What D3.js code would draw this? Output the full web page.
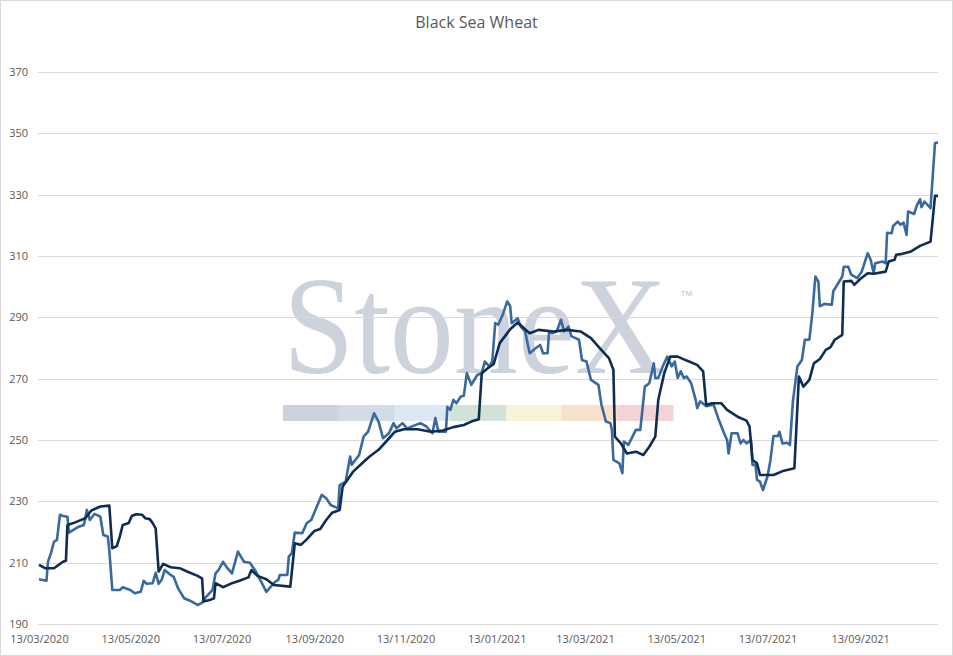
<!DOCTYPE html>
<html>
<head>
<meta charset="utf-8">
<script src="https://cdn.jsdelivr.net/npm/d3@7"></script>
<style>
  body { margin: 0; background: #fff; }
  svg { display: block; }
</style>
</head>
<body>
<div id="chart"></div>
<script>
// chart data
const chartTitle = "Black Sea Wheat";

const yTicks = [190, 210, 230, 250, 270, 290, 310, 330, 350, 370];

const xTickDates = [
  "2020-03-13", "2020-05-13", "2020-07-13", "2020-09-13", "2020-11-13",
  "2021-01-13", "2021-03-13", "2021-05-13", "2021-07-13", "2021-09-13"
];

// first series (dark navy line)
const series1 = [
  ["2020-03-13", 209.3], ["2020-03-17", 208.2], ["2020-03-23", 208.2], ["2020-03-29", 210.3],
  ["2020-03-31", 210.6], ["2020-04-01", 222.3], ["2020-04-05", 222.9], ["2020-04-09", 223.7],
  ["2020-04-13", 224.5], ["2020-04-17", 227.0], ["2020-04-23", 228.3], ["2020-04-29", 228.6],
  ["2020-05-01", 214.7], ["2020-05-04", 215.4], ["2020-05-06", 218.5], ["2020-05-08", 222.3],
  ["2020-05-12", 222.9], ["2020-05-14", 225.2], ["2020-05-17", 225.8], ["2020-05-21", 225.6],
  ["2020-05-23", 224.5], ["2020-05-26", 224.2], ["2020-05-28", 222.9], ["2020-05-30", 221.2],
  ["2020-06-01", 207.1], ["2020-06-04", 209.6], ["2020-06-09", 208.5], ["2020-06-15", 208.2],
  ["2020-06-20", 207.1], ["2020-06-27", 205.7], ["2020-06-30", 204.9], ["2020-07-01", 197.3],
  ["2020-07-05", 197.8], ["2020-07-08", 198.4], ["2020-07-09", 203.3], ["2020-07-14", 202.0],
  ["2020-07-19", 203.1], ["2020-07-25", 204.1], ["2020-07-31", 205.2], ["2020-08-02", 207.6],
  ["2020-08-06", 205.7], ["2020-08-12", 204.6], ["2020-08-17", 202.7], ["2020-08-28", 202.2],
  ["2020-08-31", 216.3], ["2020-09-04", 215.8], ["2020-09-08", 217.6], ["2020-09-13", 220.3],
  ["2020-09-17", 221.0], ["2020-09-21", 223.9], ["2020-09-25", 226.3], ["2020-09-30", 227.2],
  ["2020-10-02", 234.8], ["2020-10-06", 237.5], ["2020-10-09", 239.7], ["2020-10-15", 242.4],
  ["2020-10-20", 244.6], ["2020-10-26", 246.8], ["2020-11-01", 250.0], ["2020-11-06", 252.7],
  ["2020-11-12", 253.5], ["2020-11-21", 253.5], ["2020-11-30", 252.7], ["2020-12-08", 253.1],
  ["2020-12-15", 254.2], ["2020-12-22", 254.9], ["2020-12-27", 256.0], ["2021-01-01", 256.8],
  ["2021-01-03", 271.8], ["2021-01-07", 273.4], ["2021-01-11", 274.8], ["2021-01-15", 281.6],
  ["2021-01-22", 286.1], ["2021-01-27", 288.3], ["2021-01-31", 286.5], ["2021-02-04", 284.8],
  ["2021-02-10", 285.9], ["2021-02-20", 285.4], ["2021-03-01", 285.9], ["2021-03-10", 285.4],
  ["2021-03-17", 283.2], ["2021-03-23", 279.9], ["2021-03-29", 276.7], ["2021-04-01", 272.9],
  ["2021-04-02", 251.1], ["2021-04-06", 248.9], ["2021-04-10", 245.6], ["2021-04-16", 246.2],
  ["2021-04-21", 245.1], ["2021-04-25", 247.8], ["2021-04-29", 251.1], ["2021-05-01", 263.1],
  ["2021-05-05", 271.8], ["2021-05-09", 277.2], ["2021-05-14", 277.2], ["2021-05-20", 275.9],
  ["2021-05-27", 274.5], ["2021-05-31", 272.4], ["2021-06-02", 261.5], ["2021-06-06", 262.0],
  ["2021-06-12", 262.0], ["2021-06-16", 259.8], ["2021-06-23", 257.6], ["2021-06-29", 256.3],
  ["2021-07-01", 254.4], ["2021-07-03", 243.5], ["2021-07-06", 242.4], ["2021-07-08", 238.6],
  ["2021-07-17", 238.6], ["2021-07-24", 240.0], ["2021-07-31", 240.8], ["2021-08-03", 270.7],
  ["2021-08-06", 267.4], ["2021-08-10", 269.6], ["2021-08-13", 275.0], ["2021-08-17", 276.4],
  ["2021-08-21", 279.4], ["2021-08-24", 280.2], ["2021-08-27", 282.7], ["2021-09-01", 284.3],
  ["2021-09-02", 301.7], ["2021-09-07", 301.9], ["2021-09-09", 300.6], ["2021-09-13", 302.5],
  ["2021-09-18", 304.4], ["2021-09-22", 304.2], ["2021-09-30", 304.9], ["2021-10-02", 308.2],
  ["2021-10-06", 308.8], ["2021-10-07", 310.4], ["2021-10-10", 310.6], ["2021-10-17", 311.5],
  ["2021-10-23", 313.3], ["2021-10-30", 314.7], ["2021-11-02", 329.6], ["2021-11-04", 329.6]
];

// second series (lighter blue line)
const series2 = [
  ["2020-03-13", 204.6], ["2020-03-18", 204.1], ["2020-03-19", 210.3], ["2020-03-21", 213.1],
  ["2020-03-23", 216.8], ["2020-03-25", 217.4], ["2020-03-27", 225.6], ["2020-03-29", 225.2],
  ["2020-04-01", 225.0], ["2020-04-02", 219.8], ["2020-04-05", 220.7], ["2020-04-08", 221.6],
  ["2020-04-12", 222.3], ["2020-04-14", 227.2], ["2020-04-16", 223.9], ["2020-04-19", 225.9],
  ["2020-04-23", 225.0], ["2020-04-25", 219.0], ["2020-04-28", 218.5], ["2020-04-29", 214.1],
  ["2020-05-01", 201.1], ["2020-05-06", 201.1], ["2020-05-08", 202.0], ["2020-05-13", 201.1],
  ["2020-05-16", 200.0], ["2020-05-20", 200.5], ["2020-05-22", 204.1], ["2020-05-24", 203.1],
  ["2020-05-28", 203.3], ["2020-05-30", 206.7], ["2020-06-01", 203.1], ["2020-06-03", 204.4],
  ["2020-06-05", 207.6], ["2020-06-09", 206.0], ["2020-06-11", 205.4], ["2020-06-14", 201.6],
  ["2020-06-18", 198.4], ["2020-06-22", 197.6], ["2020-06-27", 196.2], ["2020-06-30", 196.9],
  ["2020-07-02", 198.4], ["2020-07-07", 201.1], ["2020-07-09", 206.5], ["2020-07-11", 207.6],
  ["2020-07-14", 210.3], ["2020-07-17", 208.2], ["2020-07-20", 206.5], ["2020-07-24", 213.6],
  ["2020-07-28", 210.3], ["2020-08-01", 210.0], ["2020-08-05", 207.1], ["2020-08-09", 203.3],
  ["2020-08-12", 200.5], ["2020-08-15", 202.2], ["2020-08-18", 203.8], ["2020-08-20", 204.4],
  ["2020-08-21", 206.0], ["2020-08-26", 206.0], ["2020-08-27", 212.0], ["2020-08-29", 213.1],
  ["2020-08-31", 219.8], ["2020-09-05", 219.6], ["2020-09-08", 222.9], ["2020-09-11", 223.9],
  ["2020-09-18", 232.1], ["2020-09-21", 231.0], ["2020-09-24", 228.8], ["2020-09-29", 227.7],
  ["2020-09-30", 235.3], ["2020-10-04", 236.4], ["2020-10-07", 244.6], ["2020-10-08", 241.9],
  ["2020-10-13", 245.1], ["2020-10-16", 251.1], ["2020-10-19", 252.7], ["2020-10-23", 258.7],
  ["2020-10-26", 256.0], ["2020-10-29", 250.6], ["2020-11-02", 252.2], ["2020-11-05", 255.5],
  ["2020-11-07", 253.8], ["2020-11-11", 255.5], ["2020-11-14", 253.8], ["2020-11-23", 255.5],
  ["2020-11-27", 254.4], ["2020-12-01", 252.2], ["2020-12-03", 257.2], ["2020-12-05", 252.7],
  ["2020-12-10", 252.7], ["2020-12-11", 260.8], ["2020-12-13", 259.8], ["2020-12-15", 263.1],
  ["2020-12-17", 262.0], ["2020-12-20", 264.2], ["2020-12-22", 264.4], ["2020-12-24", 271.8],
  ["2020-12-27", 268.0], ["2020-12-31", 271.2], ["2021-01-03", 271.8], ["2021-01-05", 275.6],
  ["2021-01-08", 274.0], ["2021-01-10", 275.6], ["2021-01-12", 288.1], ["2021-01-14", 287.6],
  ["2021-01-17", 290.8], ["2021-01-20", 295.2], ["2021-01-22", 293.6], ["2021-01-23", 288.1],
  ["2021-01-27", 289.7], ["2021-01-29", 287.0], ["2021-02-01", 285.4], ["2021-02-04", 278.3],
  ["2021-02-08", 279.9], ["2021-02-11", 281.0], ["2021-02-13", 278.3], ["2021-02-16", 278.3],
  ["2021-02-17", 285.4], ["2021-02-19", 284.8], ["2021-02-22", 285.4], ["2021-02-25", 289.2],
  ["2021-02-27", 285.4], ["2021-03-02", 287.0], ["2021-03-04", 283.8], ["2021-03-09", 282.7],
  ["2021-03-11", 276.1], ["2021-03-14", 275.6], ["2021-03-17", 269.6], ["2021-03-22", 268.0],
  ["2021-03-24", 261.5], ["2021-03-27", 256.0], ["2021-03-30", 255.5], ["2021-03-31", 253.3],
  ["2021-04-01", 243.5], ["2021-04-05", 242.4], ["2021-04-07", 239.2], ["2021-04-08", 249.5],
  ["2021-04-11", 248.4], ["2021-04-16", 253.3], ["2021-04-19", 253.3], ["2021-04-22", 267.4],
  ["2021-04-25", 268.5], ["2021-04-28", 275.0], ["2021-04-29", 270.2], ["2021-05-01", 270.2],
  ["2021-05-04", 274.0], ["2021-05-07", 277.2], ["2021-05-10", 274.0], ["2021-05-12", 275.6],
  ["2021-05-14", 270.2], ["2021-05-16", 272.4], ["2021-05-18", 270.2], ["2021-05-20", 270.7],
  ["2021-05-23", 268.5], ["2021-05-26", 263.1], ["2021-05-27", 260.4], ["2021-05-29", 262.6],
  ["2021-06-02", 261.0], ["2021-06-07", 261.5], ["2021-06-10", 257.2], ["2021-06-14", 252.2],
  ["2021-06-16", 250.0], ["2021-06-17", 245.6], ["2021-06-19", 252.2], ["2021-06-23", 252.2],
  ["2021-06-25", 248.9], ["2021-06-27", 250.0], ["2021-06-29", 248.9], ["2021-07-02", 250.0],
  ["2021-07-03", 241.9], ["2021-07-05", 241.9], ["2021-07-06", 237.0], ["2021-07-08", 236.4],
  ["2021-07-10", 233.7], ["2021-07-13", 238.1], ["2021-07-15", 243.5], ["2021-07-17", 251.3],
  ["2021-07-20", 251.3], ["2021-07-21", 252.7], ["2021-07-23", 248.9], ["2021-07-26", 249.1],
  ["2021-07-28", 248.4], ["2021-07-30", 262.6], ["2021-08-02", 274.0], ["2021-08-05", 276.1],
  ["2021-08-07", 282.7], ["2021-08-10", 282.7], ["2021-08-12", 291.4], ["2021-08-14", 303.3],
  ["2021-08-16", 301.7], ["2021-08-17", 293.6], ["2021-08-20", 294.4], ["2021-08-25", 294.1],
  ["2021-08-26", 298.5], ["2021-08-30", 301.7], ["2021-09-01", 303.3], ["2021-09-02", 306.5],
  ["2021-09-05", 306.5], ["2021-09-07", 303.9], ["2021-09-11", 302.8], ["2021-09-14", 304.9],
  ["2021-09-18", 310.9], ["2021-09-20", 308.8], ["2021-09-22", 304.4], ["2021-09-23", 307.6],
  ["2021-09-28", 308.2], ["2021-09-30", 307.6], ["2021-10-01", 317.6], ["2021-10-04", 317.4],
  ["2021-10-05", 319.8], ["2021-10-08", 321.2], ["2021-10-10", 320.2], ["2021-10-12", 320.9],
  ["2021-10-14", 316.9], ["2021-10-15", 324.5], ["2021-10-19", 323.7], ["2021-10-21", 326.7],
  ["2021-10-23", 328.5], ["2021-10-24", 325.9], ["2021-10-26", 327.7], ["2021-10-28", 326.7],
  ["2021-10-30", 325.6], ["2021-11-02", 346.8], ["2021-11-04", 347.0]
];

// watermark colour band
const bandColors = ["#cdd3dc", "#d2dbe6", "#dde8f2", "#d2e2d7", "#f7f3d7", "#f8e1cc", "#f3d3d5"];

//////////////// layout ////////////////
const width = 953,
  height = 656;
const margin = { top: 72, right: 15, bottom: 32, left: 39 };
const parseDate = d3.timeParse("%Y-%m-%d");
const fmtDate = d3.timeFormat("%d/%m/%Y");

const svg = d3
  .select("#chart")
  .append("svg")
  .attr("width", width)
  .attr("height", height);

//outer border of the chart
svg
  .append("rect")
  .attr("x", 0.5)
  .attr("y", 0.5)
  .attr("width", width - 1)
  .attr("height", height - 1)
  .attr("fill", "#fff")
  .attr("stroke", "#d9d9d9");

const toPoints = (arr) => arr.map((d) => ({ date: parseDate(d[0]), value: d[1] }));
const data1 = toPoints(series1);
const data2 = toPoints(series2);

const x = d3
  .scaleTime()
  .domain(d3.extent(data1.concat(data2), (d) => d.date))
  .range([margin.left, width - margin.right]);

const y = d3
  .scaleLinear()
  .domain([190, 370])
  .range([height - margin.bottom, margin.top]);

//////////////// watermark ////////////////
const wm = svg.append("g").attr("class", "watermark");
const bandX = d3.scaleBand().domain(d3.range(bandColors.length)).range([283, 673]);
wm.selectAll("rect")
  .data(bandColors)
  .enter()
  .append("rect")
  .attr("x", (d, i) => bandX(i))
  .attr("y", 405)
  .attr("width", bandX.bandwidth() + 0.5)
  .attr("height", 16)
  .attr("fill", (d) => d);

// squeeze the logo word horizontally with a transform so its box stays tight
wm.append("text")
  .attr("transform", "translate(283,373) scale(0.915,1)")
  .style("font-family", "'Liberation Serif', 'DejaVu Serif', serif")
  .style("font-size", "140px")
  .attr("fill", "#ccd3dc")
  .text("StoneX");

wm.append("text")
  .attr("x", 680)
  .attr("y", 300)
  .style("font-family", "'Liberation Sans', Arial, sans-serif")
  .style("font-size", "13px")
  .attr("fill", "#c9cfd8")
  .text("™");

//////////////// gridlines + axes ////////////////
svg
  .append("g")
  .attr("class", "grid")
  .selectAll("line")
  .data(yTicks)
  .enter()
  .append("line")
  .attr("x1", margin.left - 1)
  .attr("x2", width - margin.right)
  .attr("y1", (d) => Math.round(y(d)) + 0.5)
  .attr("y2", (d) => Math.round(y(d)) + 0.5)
  .attr("stroke", "#d9d9d9")
  .attr("stroke-width", 1);

const yAxis = svg
  .append("g")
  .attr("transform", "translate(" + (margin.left - 11) + ",0)")
  .call(d3.axisLeft(y).tickValues(yTicks).tickSize(0).tickPadding(0));
yAxis.select(".domain").remove();

const xAxis = svg
  .append("g")
  .attr("transform", "translate(0," + (height - margin.bottom) + ")")
  .call(
    d3
      .axisBottom(x)
      .tickValues(xTickDates.map(parseDate))
      .tickFormat(fmtDate)
      .tickSize(0)
      .tickPadding(11)
  );
xAxis.select(".domain").remove();

svg
  .selectAll(".tick text")
  .style("font-family", "'Open Sans', 'Liberation Sans', sans-serif")
  .style("font-size", "11px")
  .attr("fill", "#595959");

//title
svg
  .append("text")
  .attr("x", width / 2)
  .attr("y", 28)
  .attr("text-anchor", "middle")
  .style("font-family", "'Open Sans', 'Liberation Sans', sans-serif")
  .style("font-size", "16px")
  .attr("fill", "#595959")
  .text(chartTitle);

//////////////// lines ////////////////
const line = d3
  .line()
  .x((d) => x(d.date))
  .y((d) => y(d.value));

svg
  .append("path")
  .datum(data2)
  .attr("d", line)
  .attr("fill", "none")
  .attr("stroke", "#3a69a0")
  .attr("stroke-width", 2.6)
  .attr("stroke-linejoin", "round");

svg
  .append("path")
  .datum(data1)
  .attr("d", line)
  .attr("fill", "none")
  .attr("stroke", "#0f2d50")
  .attr("stroke-width", 2.6)
  .attr("stroke-linejoin", "round");
</script>
</body>
</html>
